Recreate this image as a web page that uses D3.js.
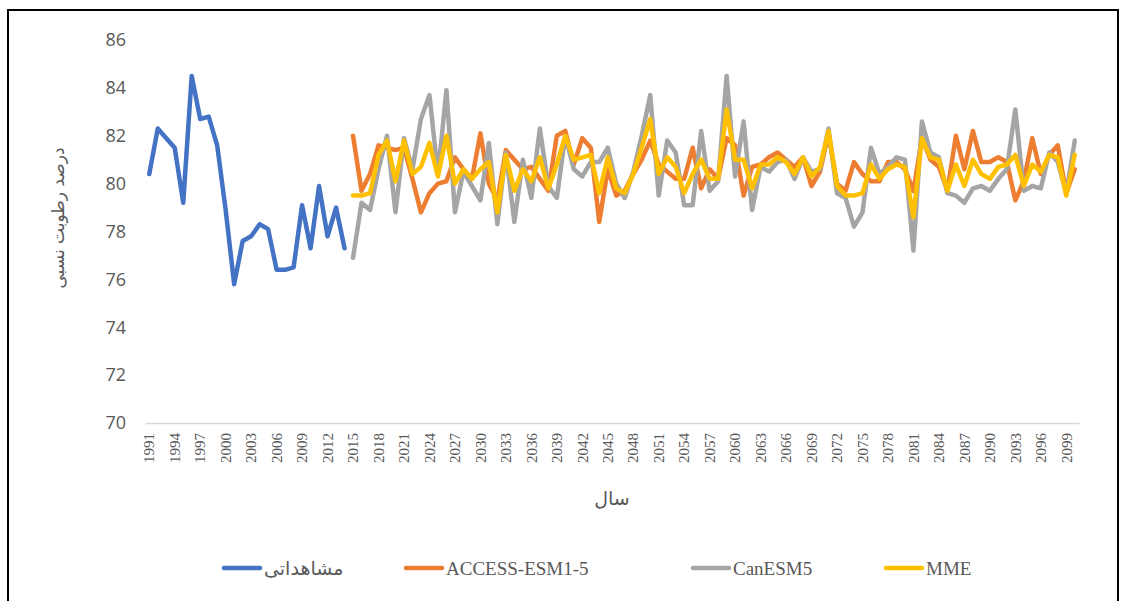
<!DOCTYPE html>
<html>
<head>
<meta charset="utf-8">
<script src="https://cdn.jsdelivr.net/npm/d3@7"></script>
<style>
  html, body { margin: 0; padding: 0; background: #fff; }
  svg { display: block; }
</style>
</head>
<body>
<svg id="chart" width="1123" height="601"></svg>
<script>
// years on the category axis
const years = d3.range(1991, 2101);
const tickYears = d3.range(1991, 2101, 3);
const yTicks = d3.range(70, 87, 2);

// observed 1991-2014
const obsYears = d3.range(1991, 2015);
const observed = [80.4, 82.3, 81.9, 81.5, 79.2, 84.5, 82.7, 82.8, 81.6, 78.9,
  75.8, 77.6, 77.8, 78.3, 78.1, 76.4, 76.4, 76.5, 79.1, 77.3,
  79.9, 77.8, 79.0, 77.3];

// projections 2015-2100
const projYears = d3.range(2015, 2101);
const access = [82.0, 79.7, 80.4, 81.6, 81.5, 81.4, 81.5, 80.2, 78.8, 79.6,
  80.0, 80.1, 81.1, 80.6, 80.2, 82.1, 80.0, 79.3, 81.4, 81.0,
  80.6, 80.7, 80.2, 79.7, 82.0, 82.2, 80.8, 81.9, 81.5, 78.4,
  80.6, 79.5, 79.7, 80.4, 81.0, 81.8, 80.8, 80.5, 80.2, 80.2,
  81.5, 79.8, 80.6, 80.2, 81.9, 81.6, 79.5, 80.7, 80.8, 81.1,
  81.3, 81.0, 80.7, 81.1, 79.9, 80.5, 82.1, 80.0, 79.7, 80.9,
  80.4, 80.1, 80.1, 80.9, 80.9, 80.6, 79.7, 81.9, 81.0, 80.7,
  79.7, 82.0, 80.6, 82.2, 80.9, 80.9, 81.1, 80.9, 79.3, 80.1,
  81.9, 80.4, 81.2, 81.6, 79.6, 80.6];
const canesm = [76.9, 79.2, 78.9, 80.6, 82.0, 78.8, 81.9, 80.6, 82.7, 83.7,
  80.4, 83.9, 78.8, 80.5, 79.9, 79.3, 81.7, 78.3, 81.3, 78.4,
  81.0, 79.4, 82.3, 79.9, 79.4, 82.0, 80.6, 80.3, 80.9, 80.9,
  81.5, 80.0, 79.4, 80.5, 82.0, 83.7, 79.5, 81.8, 81.3, 79.1,
  79.1, 82.2, 79.7, 80.1, 84.5, 80.3, 82.6, 78.9, 80.7, 80.5,
  80.9, 81.0, 80.2, 81.1, 80.5, 80.6, 82.3, 79.6, 79.4, 78.2,
  78.8, 81.5, 80.4, 80.7, 81.1, 81.0, 77.2, 82.6, 81.3, 81.1,
  79.6, 79.5, 79.2, 79.8, 79.9, 79.7, 80.2, 80.6, 83.1, 79.7,
  79.9, 79.8, 81.3, 80.9, 79.6, 81.8];
const mme = [79.5, 79.5, 79.6, 81.2, 81.8, 80.1, 81.8, 80.4, 80.7, 81.7,
  80.3, 82.0, 80.0, 80.6, 80.2, 80.6, 80.9, 78.8, 81.2, 79.7,
  80.6, 80.1, 81.1, 79.8, 80.8, 82.0, 81.0, 81.1, 81.2, 79.6,
  81.1, 79.8, 79.6, 80.4, 81.5, 82.7, 80.4, 81.1, 80.7, 79.6,
  80.4, 81.0, 80.2, 80.2, 83.1, 81.0, 81.0, 79.8, 80.8, 80.8,
  81.1, 80.9, 80.4, 81.1, 80.3, 80.7, 82.2, 79.9, 79.5, 79.5,
  79.6, 80.8, 80.2, 80.6, 80.8, 80.7, 78.6, 81.9, 81.1, 81.0,
  79.7, 80.8, 79.9, 81.0, 80.4, 80.2, 80.7, 80.8, 81.2, 79.9,
  80.8, 80.5, 81.2, 81.1, 79.5, 81.2];

const seriesNames = ['مشاهداتی', 'ACCESS-ESM1-5', 'CanESM5', 'MME'];
const colors = ['#4472C4', '#ED7D31', '#A5A5A5', '#FFC000'];

const svg = d3.select('#chart');

// outer frame
svg.append('rect')
  .attr('x', 8).attr('y', 10)
  .attr('width', 1110).attr('height', 600)
  .style('fill', 'none')
  .style('stroke', '#000')
  .style('stroke-width', 2);

const x = d3.scaleBand().domain(years).range([145, 1079]);
const y = d3.scaleLinear().domain([70, 86]).range([423, 40]);
const cx = yr => x(yr) + x.bandwidth() / 2;

// y axis labels (no axis line, no gridlines)
const yAxis = d3.axisLeft(y).tickValues(yTicks).tickSize(0).tickPadding(0);
svg.append('g')
  .attr('transform', 'translate(126,0)')
  .call(yAxis)
  .call(g => g.select('.domain').remove())
  .call(g => g.selectAll('text')
    .style('font-family', '"Open Sans", "DejaVu Sans", sans-serif')
    .style('font-size', '18px')
    .style('fill', '#595959'));

// x axis line and rotated year labels
const xAxis = d3.axisBottom(x).tickValues(tickYears).tickSize(0).tickPadding(0);
svg.append('g')
  .attr('transform', 'translate(0,423)')
  .call(xAxis)
  .call(g => g.select('.domain').style('stroke', '#d9d9d9').style('stroke-width', 1.5))
  .call(g => g.selectAll('text')
    .attr('transform', 'rotate(-90)')
    .attr('x', -10)
    .attr('y', 0)
    .attr('dy', '0.35em')
    .style('text-anchor', 'end')
    .style('font-family', '"Liberation Serif", "Times New Roman", serif')
    .style('font-size', '15px')
    .style('fill', '#595959'));

// axis titles
svg.append('text')
  .attr('transform', 'translate(58,218) rotate(-90)')
  .attr('text-anchor', 'middle')
  .attr('dy', '0.35em')
  .style('font-family', '"DejaVu Sans", "Noto Sans", sans-serif')
  .style('font-size', '17px')
  .style('fill', '#595959')
  .text('درصد رطوبت نسبی');

svg.append('text')
  .attr('x', 612).attr('y', 498)
  .attr('text-anchor', 'middle')
  .attr('dy', '0.35em')
  .style('font-family', '"DejaVu Sans", "Noto Sans", sans-serif')
  .style('font-size', '19px')
  .style('fill', '#595959')
  .text('سال');

// lines
const line = d3.line()
  .x(d => cx(d[0]))
  .y(d => y(d[1]));

const seriesData = [
  d3.zip(obsYears, observed),
  d3.zip(projYears, access),
  d3.zip(projYears, canesm),
  d3.zip(projYears, mme)
];

svg.append('g').selectAll('path')
  .data(seriesData)
  .join('path')
  .attr('d', line)
  .style('fill', 'none')
  .style('stroke', (d, i) => colors[i])
  .style('stroke-width', 4.5)
  .style('stroke-linejoin', 'round')
  .style('stroke-linecap', 'round');

// legend
const legendX = [224, 406, 693, 886];
const legend = svg.append('g').attr('transform', 'translate(0,568)');
const items = legend.selectAll('g')
  .data(seriesNames)
  .join('g')
  .attr('transform', (d, i) => `translate(${legendX[i]},0)`);

items.append('line')
  .attr('x1', 0).attr('x2', 36)
  .style('stroke', (d, i) => colors[i])
  .style('stroke-width', 4.5)
  .style('stroke-linecap', 'round');

items.append('text')
  .attr('x', 40)
  .attr('dy', '0.35em')
  .style('font-family', '"Liberation Serif", "Times New Roman", "DejaVu Sans", serif')
  .style('font-size', '19px')
  .style('fill', '#595959')
  .text(d => d);
</script>
</body>
</html>
